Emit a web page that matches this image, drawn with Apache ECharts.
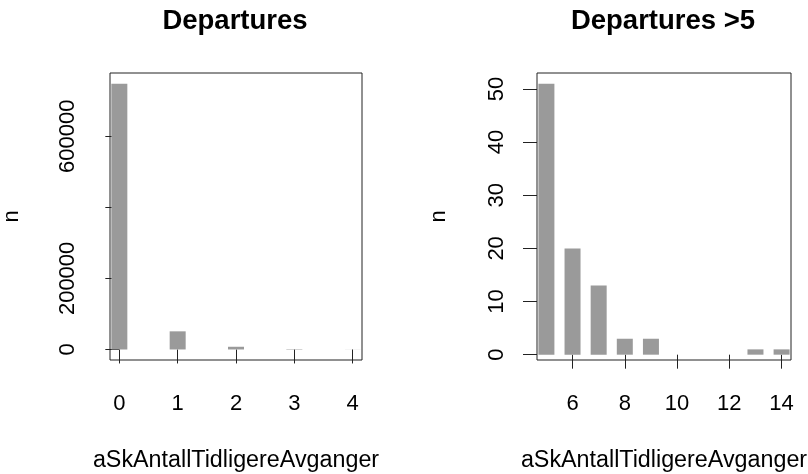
<!DOCTYPE html>
<html>
<head>
<meta charset="utf-8">
<script src="https://cdn.jsdelivr.net/npm/echarts@6/dist/echarts.min.js"></script>
<style>
html,body{margin:0;padding:0;background:#fff;}
#chart{width:808px;height:474px;}
</style>
</head>
<body>
<div id="chart"></div>
<script>
// ---- data ----
const leftTitle = 'Departures';
const rightTitle = 'Departures >5';
const xName = 'aSkAntallTidligereAvganger';
const yName = 'n';

const leftX = [0, 1, 2, 3, 4];
const leftN = [748000, 51000, 7600, 1200, 250];

const rightX = [5, 6, 7, 8, 9, 13, 14];
const rightN = [51, 20, 13, 3, 3, 1, 1];

const leftXTicks = [0, 1, 2, 3, 4];
const leftYTicks = [0, 200000, 400000, 600000];
const leftYLabels = [0, 200000, 600000];

const rightXTicks = [6, 8, 10, 12, 14];
const rightYTicks = [0, 10, 20, 30, 40, 50];

// ---- helpers ----
function rExt(vals, frac) {
  const mn = Math.min(...vals), mx = Math.max(...vals);
  const d = (mx - mn) * frac;
  return [mn - d, mx + d];
}
const FONT = '"Liberation Sans", Arial, sans-serif';
const INK = '#222';
const BAR = '#9a9a9a';

const lxr = rExt(leftX, 0.04);
const lyr = rExt(leftN, 0.04);
const rxr = rExt(rightX, 0.04);
const ryr = rExt(rightN, 0.04);

const plain = v => String(Math.round(v));

function xAxis(gi, ext, ticks) {
  return {
    type: 'value', gridIndex: gi, min: ext[0], max: ext[1],
    name: xName, nameLocation: 'middle', nameGap: 89,
    nameTextStyle: {fontFamily: FONT, fontSize: 23.3, color: '#000'},
    axisLine: {show: false},
    splitLine: {show: false},
    axisTick: {show: true, inside: false, length: 14, customValues: ticks, lineStyle: {color: INK, width: 1}},
    axisLabel: {show: true, customValues: ticks, formatter: plain, margin: 33, fontFamily: FONT, fontSize: 22, color: '#000'}
  };
}
function yAxis(gi, ext, ticks, labels, margin) {
  return {
    type: 'value', gridIndex: gi, min: ext[0], max: ext[1],
    name: yName, nameLocation: 'middle', nameGap: 87, nameRotate: 90,
    nameTextStyle: {fontFamily: FONT, fontSize: 22, color: '#000'},
    axisLine: {show: false},
    splitLine: {show: false},
    axisTick: {show: true, inside: false, length: 14, customValues: ticks, lineStyle: {color: INK, width: 1}},
    axisLabel: {show: true, customValues: labels, formatter: plain, rotate: 90, margin: margin, fontFamily: FONT, fontSize: 22, color: '#000'}
  };
}

const chart = echarts.init(document.getElementById('chart'), null, {renderer: 'canvas'});
chart.setOption({
  animation: false,
  backgroundColor: '#fff',
  title: [
    {text: leftTitle, left: 230, top: 2, textAlign: 'center',
     textStyle: {fontFamily: FONT, fontSize: 27.5, fontWeight: 'bold', color: '#000'}},
    {text: rightTitle, left: 658, top: 2, textAlign: 'center',
     textStyle: {fontFamily: FONT, fontSize: 27.5, fontWeight: 'bold', color: '#000'}}
  ],
  grid: [
    {left: 110, top: 73, width: 252, height: 287, show: true, borderColor: INK, borderWidth: 1,
     backgroundColor: 'transparent', containLabel: false, outerBoundsMode: 'none'},
    {left: 537, top: 73, width: 254, height: 287, show: true, borderColor: INK, borderWidth: 1,
     backgroundColor: 'transparent', containLabel: false, outerBoundsMode: 'none'}
  ],
  xAxis: [xAxis(0, lxr, leftXTicks), xAxis(1, rxr, rightXTicks)],
  yAxis: [yAxis(0, lyr, leftYTicks, leftYLabels, 31), yAxis(1, ryr, rightYTicks, rightYTicks, 29)],
  series: [
    {type: 'bar', xAxisIndex: 0, yAxisIndex: 0, barWidth: 16,
     itemStyle: {color: BAR}, data: leftX.map((x, i) => [x, leftN[i]])},
    {type: 'bar', xAxisIndex: 1, yAxisIndex: 1, barWidth: 16,
     itemStyle: {color: BAR}, data: rightX.map((x, i) => [x, rightN[i]])}
  ]
});
</script>
</body>
</html>
